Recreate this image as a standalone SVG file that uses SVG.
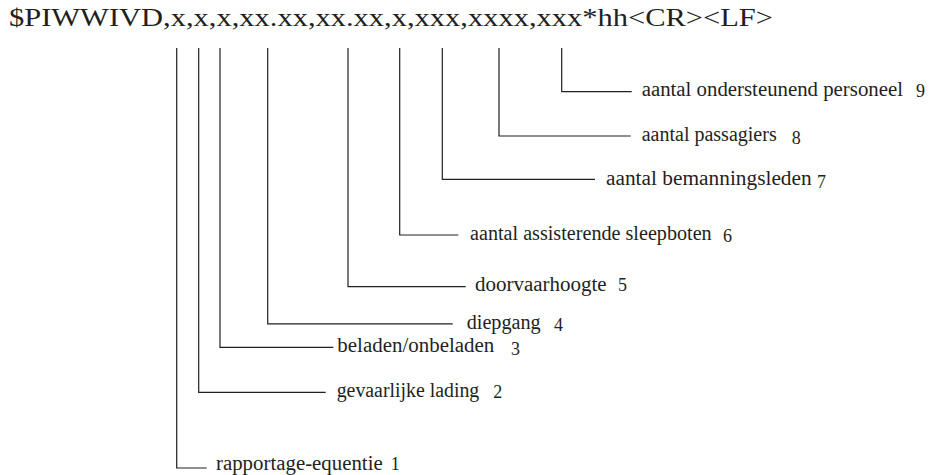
<svg xmlns="http://www.w3.org/2000/svg" width="931" height="475" viewBox="0 0 931 475">
  <style>
    .title { font-family: "Liberation Serif", "DejaVu Serif", serif; font-size: 26px; fill: #231f20; }
    .lbl { font-family: "Liberation Serif", "DejaVu Serif", serif; font-size: 20.5px; fill: #231f20; }
    .num { font-family: "Liberation Serif", "DejaVu Serif", serif; font-size: 18px; fill: #231f20; }
    .conn { fill: none; stroke: #231f20; stroke-width: 1.2; }
  </style>
  <rect width="931" height="475" fill="#ffffff"/>

  <g id="sentence">
    <text class="title" x="9" y="26" textLength="764" lengthAdjust="spacingAndGlyphs">$PIWWIVD,x,x,x,xx.xx,xx.xx,x,xxx,xxxx,xxx*hh&lt;CR&gt;&lt;LF&gt;</text>
  </g>

  <g id="connectors">
    <path class="conn" d="M176.7,48 V468 H206.7"/>
    <path class="conn" d="M198.7,48 V392.3 H325.7"/>
    <path class="conn" d="M220,48 V347.3 H333.3"/>
    <path class="conn" d="M267.7,48 V323.8 H452.7"/>
    <path class="conn" d="M348,48 V286.7 H465.7"/>
    <path class="conn" d="M399.7,48 V235 H458.3"/>
    <path class="conn" d="M442.3,48 V179.3 H595"/>
    <path class="conn" d="M499,48 V136 H630.7"/>
    <path class="conn" d="M561.7,48 V91.7 H631.7"/>
  </g>

  <g id="field-1">
    <text class="lbl" x="216" y="470" textLength="166.7" lengthAdjust="spacingAndGlyphs">rapportage-equentie</text>
    <text class="num" x="390.7" y="470">1</text>
  </g>
  <g id="field-2">
    <text class="lbl" x="336.7" y="396.5" textLength="142.6" lengthAdjust="spacingAndGlyphs">gevaarlijke lading</text>
    <text class="num" x="493.3" y="398">2</text>
  </g>
  <g id="field-3">
    <text class="lbl" x="337.3" y="352" textLength="157" lengthAdjust="spacingAndGlyphs">beladen/onbeladen</text>
    <text class="num" x="511" y="355">3</text>
  </g>
  <g id="field-4">
    <text class="lbl" x="466.7" y="328.5" textLength="74" lengthAdjust="spacingAndGlyphs">diepgang</text>
    <text class="num" x="554" y="331">4</text>
  </g>
  <g id="field-5">
    <text class="lbl" x="475" y="291" textLength="131.7" lengthAdjust="spacingAndGlyphs">doorvaarhoogte</text>
    <text class="num" x="618" y="291">5</text>
  </g>
  <g id="field-6">
    <text class="lbl" x="470" y="240" textLength="241.7" lengthAdjust="spacingAndGlyphs">aantal assisterende sleepboten</text>
    <text class="num" x="723" y="242">6</text>
  </g>
  <g id="field-7">
    <text class="lbl" x="606" y="184.5" textLength="205.7" lengthAdjust="spacingAndGlyphs">aantal bemanningsleden</text>
    <text class="num" x="817" y="188">7</text>
  </g>
  <g id="field-8">
    <text class="lbl" x="641.7" y="141" textLength="135" lengthAdjust="spacingAndGlyphs">aantal passagiers</text>
    <text class="num" x="791.7" y="143.5">8</text>
  </g>
  <g id="field-9">
    <text class="lbl" x="641.7" y="96" textLength="261.3" lengthAdjust="spacingAndGlyphs">aantal ondersteunend personeel</text>
    <text class="num" x="916" y="97">9</text>
  </g>
</svg>
